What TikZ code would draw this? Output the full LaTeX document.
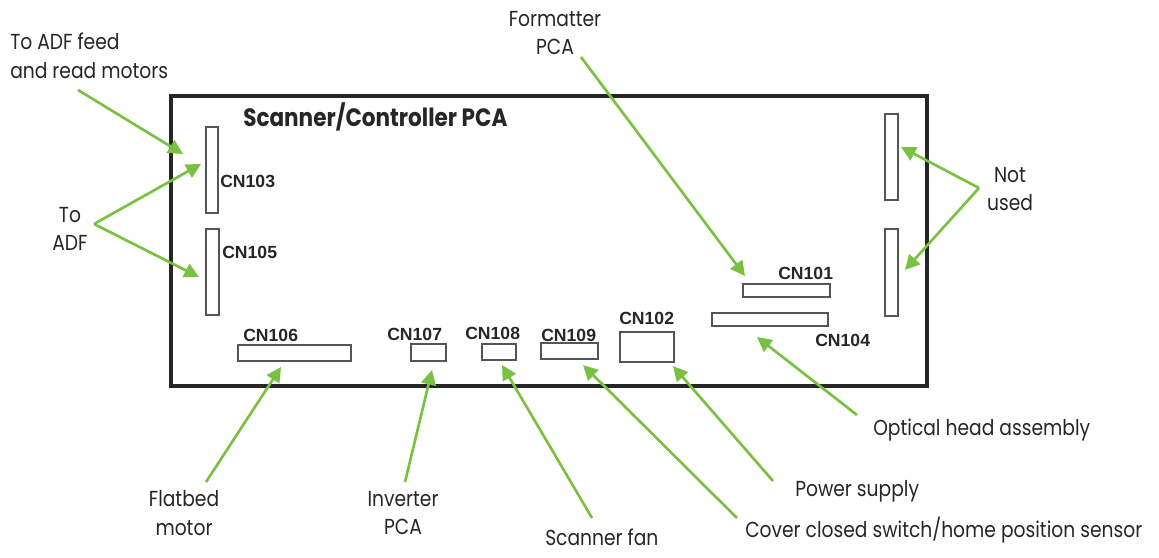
\documentclass[tikz,border=0pt]{standalone}
\usepackage{fontspec}
\setmainfont{Poppins}[FakeStretch=0.86]
\newfontfamily\cnfont{Liberation Sans}
\usepackage{tikz}
\usetikzlibrary{arrows.meta,positioning}
\definecolor{pointergreen}{HTML}{79C143}
\definecolor{slotgray}{HTML}{555555}
\newcommand{\CalloutFont}{\fontsize{16.3pt}{21.4pt}\selectfont}
\newcommand{\ConnFont}{\cnfont\fontsize{13.2pt}{15pt}\selectfont\bfseries}

\begin{document}
\begin{tikzpicture}[x=0.75pt,y=-0.75pt,
    board/.style={draw=black!85, line width=2.3pt},
    slot/.style={draw=slotgray, line width=0.8pt, fill=white, inner sep=0pt, outer sep=0pt},
    connlabel/.style={anchor=west, inner sep=0pt, font=\ConnFont, text=black!85},
    calloutlabel/.style={inner sep=0pt, font=\CalloutFont, text=black!85},
    pointer/.style={-{Triangle[length=11pt,width=11pt]}, draw=pointergreen,
        fill=pointergreen, line width=2pt}]
  \useasboundingbox (0,0) rectangle (1159,557);
  % the PCA outline
  \draw[board] (171,96) rectangle (927,386);
  \node[inner sep=0pt, anchor=west, font=\fontsize{18.8pt}{20pt}\selectfont\bfseries,
      text=black!85] (pca-title) at (243,117) {Scanner/Controller PCA};
  % connectors on the board
  \foreach \conn/\cx/\cy/\cw/\ch in {cn103/212/170/12/86, cn105/212.5/272/13/86,
      cn106/294.5/353/113/16, cn107/428.5/352.5/35/17, cn108/499/352/34/16,
      cn109/569.5/351/57/16, cn102/647/347/54/30, cn104/770/319.5/116/13,
      cn101/786.5/290.5/87/13, unused-top/891.5/157/13/86,
      unused-bottom/891.5/272.5/13/87} {
    \node[slot, minimum width=\cw*0.75pt, minimum height=\ch*0.75pt]
        (\conn) at (\cx,\cy) {};
  }
  \node[connlabel] (cn103-label) at (220,181) {CN103};
  \node[connlabel] (cn105-label) at (222,252) {CN105};
  \node[connlabel] (cn106-label) at (243,335) {CN106};
  \node[connlabel] (cn107-label) at (387,334) {CN107};
  \node[connlabel] (cn108-label) at (465,333) {CN108};
  \node[connlabel] (cn109-label) at (541,335) {CN109};
  \node[connlabel] (cn102-label) at (619,318) {CN102};
  \node[connlabel] (cn101-label) at (778,273) {CN101};
  \node[connlabel] (cn104-label) at (815,340) {CN104};
  % callout texts
  \node[calloutlabel, anchor=west, align=left] (adf-motors) at (10,56)
      {To ADF feed\\and read motors};
  \node[calloutlabel, align=center] (to-adf) at (70,229) {To\\ADF};
  \node[calloutlabel, align=center] (formatter) at (555,33) {Formatter\\PCA};
  \node[calloutlabel, align=center] (not-used) at (1010,189) {Not\\used};
  \node[calloutlabel, anchor=west] (optical-head) at (873,430) {Optical head assembly};
  \node[calloutlabel, anchor=west] (power-supply) at (795,491) {Power supply};
  \node[calloutlabel, anchor=west] (cover-switch) at (745,530)
      {Cover closed switch/home position sensor};
  \node[calloutlabel, anchor=west] (scanner-fan) at (545,537) {Scanner fan};
  \node[calloutlabel, align=center] (inverter) at (403,513) {Inverter\\PCA};
  \node[calloutlabel, align=center] (flatbed) at (184,513) {Flatbed\\motor};
  % arrow ends
  \coordinate (adf-motors-tail) at (78,90);
  \coordinate (adf-motors-tip) at (183,154);
  \coordinate (to-adf-tail) at (94,224);
  \coordinate (to-adf-tip-a) at (201,164);
  \coordinate (to-adf-tip-b) at (199,277);
  \coordinate (formatter-tail) at (581,57);
  \coordinate (formatter-tip) at (745,276);
  \coordinate (not-used-tail) at (979,188);
  \coordinate (not-used-tip-a) at (901,147);
  \coordinate (not-used-tip-b) at (905,270);
  \coordinate (optical-head-tail) at (857,415);
  \coordinate (optical-head-tip) at (757,337);
  \coordinate (power-supply-tail) at (773,481);
  \coordinate (power-supply-tip) at (673,366);
  \coordinate (cover-switch-tail) at (737,518);
  \coordinate (cover-switch-tip) at (583,365);
  \coordinate (scanner-fan-tail) at (592,518);
  \coordinate (scanner-fan-tip) at (502,365);
  \coordinate (inverter-tail) at (405,482);
  \coordinate (inverter-tip) at (432,370);
  \coordinate (flatbed-tail) at (206,482);
  \coordinate (flatbed-tip) at (281,367);
  % green pointers
  \foreach \from/\to in {adf-motors-tail/adf-motors-tip, to-adf-tail/to-adf-tip-a,
      to-adf-tail/to-adf-tip-b, formatter-tail/formatter-tip,
      not-used-tail/not-used-tip-a, not-used-tail/not-used-tip-b,
      optical-head-tail/optical-head-tip, power-supply-tail/power-supply-tip,
      cover-switch-tail/cover-switch-tip, scanner-fan-tail/scanner-fan-tip,
      inverter-tail/inverter-tip, flatbed-tail/flatbed-tip} {
    \draw[pointer] (\from) -- (\to);
  }
\end{tikzpicture}
\end{document}
